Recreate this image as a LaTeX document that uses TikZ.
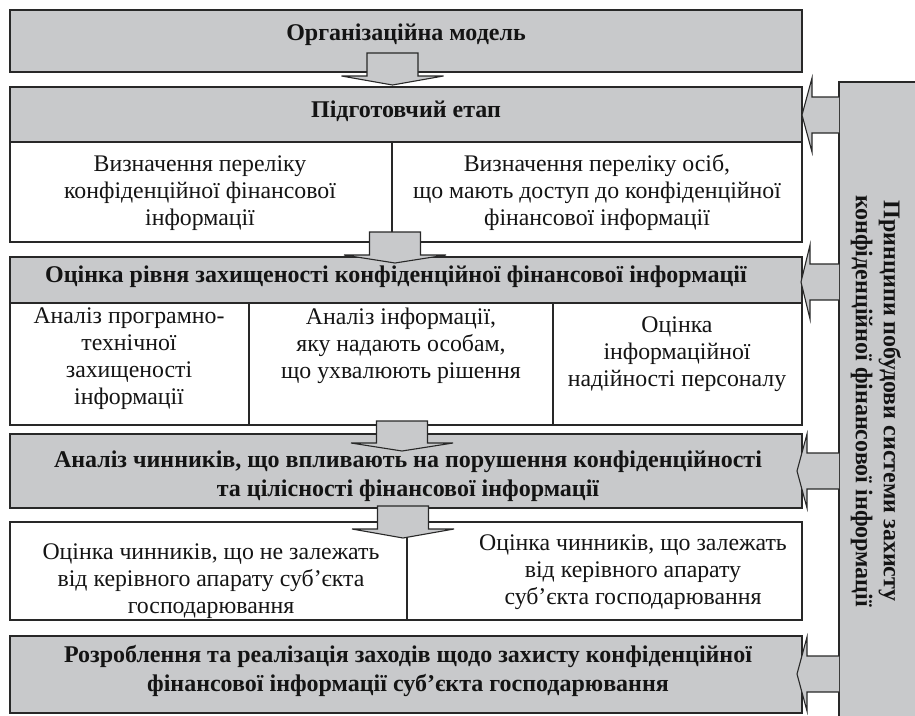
\documentclass[tikz,border=0pt]{standalone}
\usepackage{fontspec}
\setmainfont{Liberation Serif}
\definecolor{boxgray}{RGB}{200,201,203}
\definecolor{linecol}{RGB}{40,40,40}
\begin{document}
\begin{tikzpicture}[x=1pt,y=-1pt,
  gbox/.style={draw=linecol, line width=1.1pt, fill=boxgray, anchor=north west, inner sep=0pt, outer sep=0pt},
  wbox/.style={draw=linecol, line width=1.1pt, fill=white, anchor=north west, inner sep=0pt, outer sep=0pt},
  btxt/.style={font=\fontsize{24}{29}\selectfont\bfseries, align=center, inner sep=0pt, text=black!92},
  rtxt/.style={font=\fontsize{23.8}{27}\selectfont, align=center, inner sep=0pt, text=black!92},
  blockarrow/.style={draw=linecol, line width=1.1pt, fill=boxgray, line join=miter}
]
\useasboundingbox (0,0) rectangle (915,715);
\clip (0,0) rectangle (915,715);

% side box
\node[gbox, minimum width=90pt, minimum height=640pt] (side) at (839,82) {};
\node[btxt, rotate=-90, font=\fontsize{24}{28}\selectfont\bfseries] (tside) at (876,401)
  {Принципи побудови системи захисту\\конфіденційної фінансової інформації};

% boxes
\node[gbox, minimum width=792pt, minimum height=62pt] (b1) at (10,10) {};
\node[gbox, minimum width=792pt, minimum height=55pt] (b2) at (10,87) {};
\node[wbox, minimum width=382pt, minimum height=100pt] (r2l) at (10,142) {};
\node[wbox, minimum width=410pt, minimum height=100pt] (r2r) at (392,142) {};
\node[gbox, minimum width=792pt, minimum height=46pt] (b3) at (10,257) {};
\node[wbox, minimum width=239pt, minimum height=122pt] (r3a) at (10,303) {};
\node[wbox, minimum width=304pt, minimum height=122pt] (r3b) at (249,303) {};
\node[wbox, minimum width=249pt, minimum height=122pt] (r3c) at (553,303) {};
\node[gbox, minimum width=792pt, minimum height=74pt] (b4) at (10,434) {};
\node[wbox, minimum width=397pt, minimum height=98pt] (r5l) at (10,522) {};
\node[wbox, minimum width=395pt, minimum height=98pt] (r5r) at (407,522) {};
\node[gbox, minimum width=792pt, minimum height=77pt] (b6) at (10,636) {};

% down block arrows
\foreach \cx/\top/\wing/\tip in {392.5/53/76/85, 395/232/255/263, 402/421/443/451, 403/506/529/538}{
  \draw[blockarrow] (\cx-25.5,\top) -- (\cx-25.5,\wing) -- (\cx-51,\wing) -- (\cx,\tip)
    -- (\cx+51,\wing) -- (\cx+25.5,\wing) -- (\cx+25.5,\top) -- cycle;
}
% left block arrows from side box
\foreach \ty/\tx/\bx in {115/802/812, 282/801/810, 471/797/807, 674/797/807}{
  \draw[blockarrow] (side.west |- 0,\ty-18) -- (\bx,\ty-18) -- (\bx,\ty-37) -- (\tx,\ty)
    -- (\bx,\ty+37) -- (\bx,\ty+18) -- (side.west |- 0,\ty+18);
}

% texts
\node[btxt] (t1) at (406,35) {Організаційна модель};
\node[btxt] (t2) at (406,111) {Підготовчий етап};
\node[rtxt] (t2l) at (200,193) {Визначення переліку\\конфіденційної фінансової\\інформації};
\node[rtxt] (t2r) at (597,193) {Визначення переліку осіб,\\що мають доступ до конфіденційної\\фінансової інформації};
\node[btxt] (t3) at (396,277) {Оцінка рівня захищеності конфіденційної фінансової інформації};
\node[rtxt] (t3a) at (129,358.5) {Аналіз програмно-\\технічної\\захищеності\\інформації};
\node[rtxt] (t3b) at (401,345.5) {Аналіз інформації,\\яку надають особам,\\що ухвалюють рішення};
\node[rtxt] (t3c) at (677,354.5) {Оцінка\\інформаційної\\надійності персоналу};
\node[btxt] (t4) at (408,476) {Аналіз чинників, що впливають на порушення конфіденційності\\та цілісності фінансової інформації};
\node[rtxt] (t5l) at (211,581) {Оцінка чинників, що не залежать\\від керівного апарату суб’єкта\\господарювання};
\node[rtxt] (t5r) at (633,572) {Оцінка чинників, що залежать\\від керівного апарату\\суб’єкта господарювання};
\node[btxt] (t6) at (408,670.5) {Розроблення та реалізація заходів щодо захисту конфіденційної\\фінансової інформації суб’єкта господарювання};
\end{tikzpicture}
\end{document}
